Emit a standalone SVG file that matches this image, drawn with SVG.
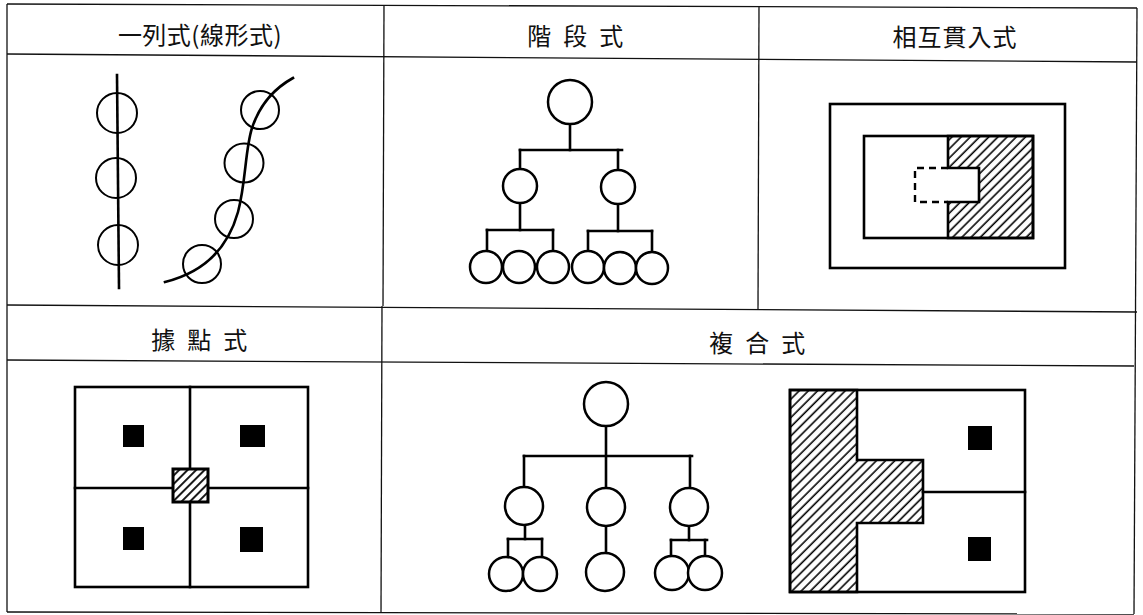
<svg xmlns="http://www.w3.org/2000/svg" width="1143" height="615" viewBox="0 0 1143 615">
<defs>
<pattern id="hatch" patternUnits="userSpaceOnUse" width="6.5" height="10" patternTransform="rotate(45)">
<line x1="3" y1="-1" x2="3" y2="11" stroke="#000" stroke-width="1.6"/>
</pattern>
<pattern id="hatchS" patternUnits="userSpaceOnUse" width="6" height="10" patternTransform="rotate(45)">
<line x1="3" y1="-1" x2="3" y2="11" stroke="#000" stroke-width="1.8"/>
</pattern>
</defs>
<style>
.grid{stroke:#111;stroke-width:1.3;fill:none}
.t{font-family:"Noto Sans CJK TC","Noto Sans CJK JP",sans-serif;font-size:24px;fill:#111;text-anchor:middle}
.sp{letter-spacing:3.3px}
.ln{stroke:#000;stroke-width:2.6;fill:none;stroke-linecap:square}
.c{stroke:#000;stroke-width:2.5;fill:#fff}
.thin{stroke:#000;stroke-width:2;fill:none}
.dash{stroke:#000;stroke-width:2.4;fill:none;stroke-dasharray:7 5}
.blk{fill:#000}
.h{fill:url(#hatch);stroke:#000;stroke-width:2.6}
</style>
<rect width="1143" height="615" fill="#fff"/>
<g id="grid">
<line class="grid" x1="7" y1="4" x2="1137" y2="8"/>
<line class="grid" x1="7" y1="54" x2="1137" y2="62"/>
<line class="grid" x1="7" y1="305" x2="1137" y2="312"/>
<line class="grid" x1="7" y1="360" x2="1134" y2="366"/>
<line class="grid" x1="7" y1="612" x2="1134" y2="614"/>
<line class="grid" x1="7" y1="4" x2="7" y2="612"/>
<line class="grid" x1="384" y1="5" x2="383" y2="306"/>
<line class="grid" x1="759" y1="7" x2="758" y2="309"/>
<line class="grid" x1="1137" y1="8" x2="1134" y2="614"/>
<line class="grid" x1="382" y1="306" x2="381" y2="613"/>
</g>
<g id="titles">
<text class="t" x="200" y="44" letter-spacing="0.5">一列式(線形式)</text>
<text class="t sp" x="577" y="45">階 段 式</text>
<text class="t" x="955" y="46" letter-spacing="1">相互貫入式</text>
<text class="t sp" x="201" y="349">據 點 式</text>
<text class="t sp" x="759" y="352">複 合 式</text>
</g>
<g id="linear">
<line class="ln" x1="117" y1="75" x2="119" y2="288"/>
<circle class="thin" cx="117" cy="113" r="20"/>
<circle class="thin" cx="116" cy="178" r="20"/>
<circle class="thin" cx="118" cy="245" r="20"/>
<path class="ln" d="M165,282 C205,272 228,248 238,212 C246,182 245,150 252,128 C260,104 275,88 293,78"/>
<circle class="thin" cx="260" cy="110" r="19"/>
<circle class="thin" cx="244" cy="163" r="19.5"/>
<circle class="thin" cx="234" cy="219" r="19"/>
<circle class="thin" cx="202" cy="264" r="19"/>
</g>
<g id="hierarchy">
<line class="ln" x1="570" y1="124" x2="570" y2="150"/>
<line class="ln" x1="520" y1="150" x2="622" y2="150"/>
<line class="ln" x1="520" y1="150" x2="520" y2="169"/>
<line class="ln" x1="618" y1="150" x2="618" y2="170"/>
<line class="ln" x1="520" y1="203" x2="520" y2="230"/>
<line class="ln" x1="618" y1="204" x2="618" y2="231"/>
<line class="ln" x1="487" y1="230" x2="553" y2="230"/>
<line class="ln" x1="588" y1="231" x2="652" y2="231"/>
<line class="ln" x1="487" y1="230" x2="487" y2="251"/>
<line class="ln" x1="553" y1="230" x2="553" y2="251"/>
<line class="ln" x1="588" y1="231" x2="588" y2="251"/>
<line class="ln" x1="652" y1="231" x2="652" y2="251"/>
<circle class="c" cx="570" cy="102" r="22"/>
<circle class="c" cx="520" cy="186" r="17"/>
<circle class="c" cx="618" cy="187" r="17"/>
<circle class="c" cx="486" cy="267" r="16"/>
<circle class="c" cx="519" cy="267" r="16"/>
<circle class="c" cx="553" cy="267" r="16"/>
<circle class="c" cx="588" cy="267" r="16"/>
<circle class="c" cx="620" cy="268" r="16"/>
<circle class="c" cx="652" cy="268" r="16"/>
</g>
<g id="interpenetration">
<rect class="ln" x="830" y="104" width="235" height="164"/>
<path class="h" d="M948,136 H1033 V238 H948 V202 H979 V168 H948 Z"/>
<rect class="ln" x="864" y="136" width="169" height="102"/>
<path class="dash" d="M948,168 H915 V202 H948"/>
</g>
<g id="stronghold">
<rect class="ln" x="75" y="387" width="233" height="200"/>
<line class="ln" x1="190" y1="387" x2="190" y2="587"/>
<line class="ln" x1="75" y1="488" x2="308" y2="488"/>
<rect x="173" y="469" width="35" height="33" fill="#fff"/>
<rect x="173" y="469" width="35" height="33" fill="url(#hatchS)" stroke="#000" stroke-width="3"/>
<rect class="blk" x="123" y="425" width="21" height="22"/>
<rect class="blk" x="240" y="425" width="25" height="22"/>
<rect class="blk" x="123" y="527" width="21" height="23"/>
<rect class="blk" x="240" y="527" width="23" height="25"/>
</g>
<g id="composite-tree">
<line class="ln" x1="606" y1="426" x2="606" y2="488"/>
<line class="ln" x1="524" y1="456" x2="692" y2="456"/>
<line class="ln" x1="524" y1="456" x2="524" y2="487"/>
<line class="ln" x1="690" y1="456" x2="690" y2="488"/>
<line class="ln" x1="525" y1="525" x2="525" y2="539"/>
<line class="ln" x1="508" y1="539" x2="542" y2="539"/>
<line class="ln" x1="508" y1="539" x2="508" y2="557"/>
<line class="ln" x1="542" y1="539" x2="542" y2="557"/>
<line class="ln" x1="606" y1="526" x2="606" y2="553"/>
<line class="ln" x1="689" y1="526" x2="689" y2="540"/>
<line class="ln" x1="671" y1="540" x2="707" y2="540"/>
<line class="ln" x1="671" y1="540" x2="671" y2="556"/>
<line class="ln" x1="705" y1="540" x2="705" y2="556"/>
<circle class="c" cx="606" cy="404" r="22"/>
<circle class="c" cx="524" cy="506" r="19"/>
<circle class="c" cx="606" cy="507" r="19"/>
<circle class="c" cx="689" cy="507" r="19"/>
<circle class="c" cx="506" cy="574" r="17"/>
<circle class="c" cx="540" cy="574" r="17"/>
<circle class="c" cx="605" cy="572" r="19"/>
<circle class="c" cx="672" cy="573" r="17"/>
<circle class="c" cx="705" cy="573" r="17"/>
</g>
<g id="composite-plan">
<rect class="ln" x="790" y="390" width="235" height="202"/>
<path class="h" d="M790,390 H857 V460 H923 V523 H857 V592 H790 Z"/>
<line class="ln" x1="923" y1="492" x2="1025" y2="492"/>
<rect class="blk" x="968" y="426" width="24" height="24"/>
<rect class="blk" x="968" y="537" width="23" height="24"/>
</g>
</svg>
